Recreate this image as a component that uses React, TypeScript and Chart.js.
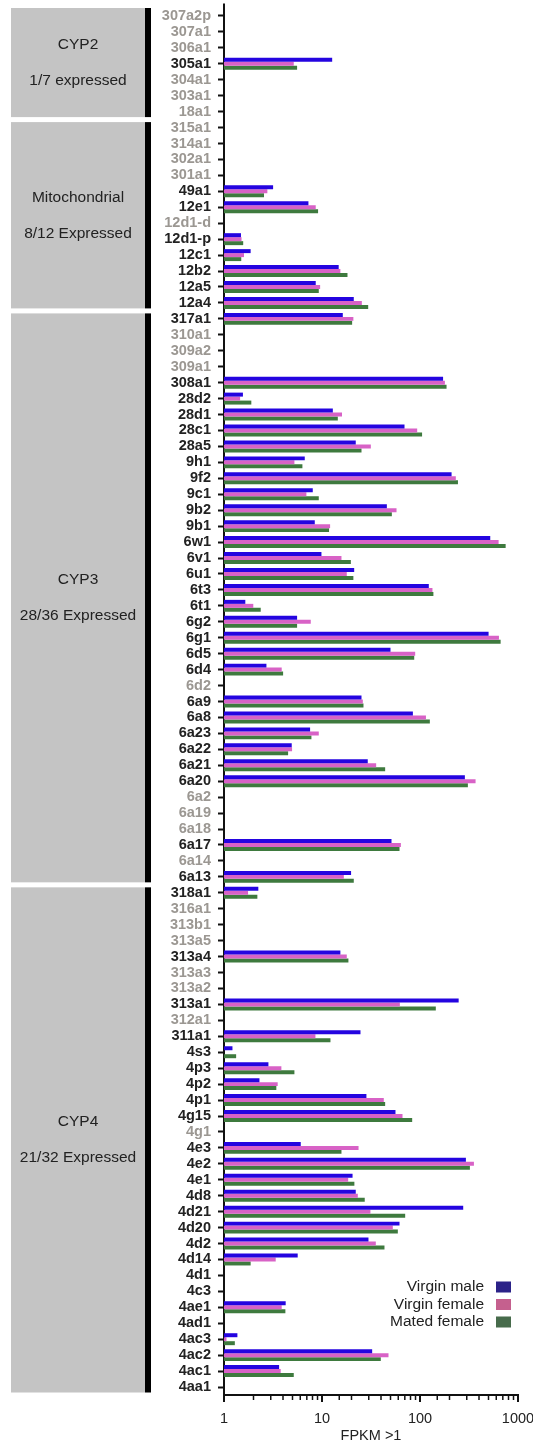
import { useEffect, useRef } from 'react';
import { Chart, registerables } from 'chart.js';

Chart.register(...registerables);

const FONT = '"Liberation Sans", Arial, Helvetica, sans-serif';

// Cytochrome P450 genes, top to bottom
const genes = [
  '307a2p', '307a1', '306a1', '305a1', '304a1', '303a1', '18a1',
  '315a1', '314a1', '302a1', '301a1', '49a1', '12e1', '12d1-d', '12d1-p', '12c1', '12b2', '12a5', '12a4',
  '317a1', '310a1', '309a2', '309a1', '308a1', '28d2', '28d1', '28c1', '28a5', '9h1', '9f2', '9c1', '9b2', '9b1',
  '6w1', '6v1', '6u1', '6t3', '6t1', '6g2', '6g1', '6d5', '6d4', '6d2', '6a9', '6a8', '6a23', '6a22', '6a21',
  '6a20', '6a2', '6a19', '6a18', '6a17', '6a14', '6a13',
  '318a1', '316a1', '313b1', '313a5', '313a4', '313a3', '313a2', '313a1', '312a1', '311a1', '4s3', '4p3', '4p2',
  '4p1', '4g15', '4g1', '4e3', '4e2', '4e1', '4d8', '4d21', '4d20', '4d2', '4d14', '4d1', '4c3', '4ae1', '4ad1',
  '4ac3', '4ac2', '4ac1', '4aa1',
];

// genes with no detectable expression (labels shown in grey)
const notExpressed = [
  '307a2p', '307a1', '306a1', '304a1', '303a1', '18a1', '315a1', '314a1', '302a1', '301a1', '12d1-d',
  '310a1', '309a2', '309a1', '6d2', '6a2', '6a19', '6a18', '6a14', '316a1', '313b1', '313a5', '313a3',
  '313a2', '312a1', '4g1',
];

// clade blocks: name, expressed count note, number of genes
const groupNames = ['CYP2', 'Mitochondrial', 'CYP3', 'CYP4'];
const groupNotes = ['1/7 expressed', '8/12 Expressed', '28/36 Expressed', '21/32 Expressed'];
const groupSizes = [7, 12, 36, 32];

const seriesLabels = ['Virgin male', 'Virgin female', 'Mated female'];
const barColors = ['#2404e0', '#d862c6', '#3e7a3e'];
const legendColors = ['#2b2288', '#c5608e', '#476b4b'];

const virginMale = [
  null, null, null, 12.7, null, null, null,
  null, null, null, null, 3.17, 7.27, null, 1.49, 1.87, 14.8, 8.63, 21.1,
  16.3, null, null, null, 172, 1.56, 12.9, 69.5, 22.1, 6.67, 210, 8.05, 45.9, 8.44,
  521, 9.87, 21.3, 123, 1.65, 5.57, 501, 50.0, 2.71, null, 25.3, 84.6, 7.56, 4.91, 29.3,
  287, null, null, null, 51.2, null, 19.8,
  2.24, null, null, null, 15.4, null, null, 248, null, 24.7, 1.22, 2.84, 2.30,
  28.4, 56.2, null, 6.07, 294, 20.5, 22.1, 276, 61.8, 29.8, 5.65, null, null, 4.26, null,
  1.37, 32.5, 3.65, null,
];

const virginFemale = [
  null, null, null, 5.15, null, null, null,
  null, null, null, null, 2.77, 8.63, null, 1.51, 1.60, 15.4, 9.57, 25.5,
  20.9, null, null, null, 179.5, 1.46, 16.0, 93.6, 31.5, 5.23, 232, 6.93, 57.6, 12.1,
  634, 15.8, 17.9, 134, 1.99, 7.68, 639, 89.3, 3.88, null, 26.1, 115, 9.27, 4.95, 35.7,
  369, null, null, null, 63.8, null, 16.7,
  1.76, null, null, null, 17.9, null, null, 62.3, null, 8.57, null, 3.85, 3.53,
  42.7, 66.3, null, 23.6, 355, 18.5, 23.2, 31.2, 52.8, 35.4, 3.37, null, null, 3.88, null,
  1.06, 47.7, 3.79, null,
];

const matedFemale = [
  null, null, null, 5.57, null, null, null,
  null, null, null, null, 2.56, 9.12, null, 1.57, 1.50, 18.2, 9.27, 29.6,
  20.3, null, null, null, 186.6, 1.90, 14.5, 105, 25.3, 6.31, 244, 9.27, 51.6, 11.8,
  748, 19.7, 20.9, 137, 2.37, 5.57, 665, 87.3, 4.01, null, 26.5, 126, 7.80, 4.51, 44.1,
  308, null, null, null, 61.8, null, 21.1,
  2.19, null, null, null, 18.6, null, null, 145, null, 12.2, 1.33, 5.23, 3.42,
  44.1, 83.2, null, 15.8, 323, 21.4, 27.3, 70.6, 59.4, 43.4, 1.87, null, null, 4.23, null,
  1.29, 39.8, 5.15, null,
];

const xTickLabels = [1, 10, 100, 1000];
const xTitle = 'FPKM >1';

// grey clade blocks with the thick black bracket to their right
const groupPlugin = {
  id: 'cypGroups',
  afterDraw(chart: any) {
    const { ctx, chartArea, scales } = chart;
    const y = scales.y;
    const step = y.getPixelForValue(1) - y.getPixelForValue(0);
    const boxLeft = chartArea.left - 213;
    const boxRight = chartArea.left - 79;
    const barRight = chartArea.left - 73;
    ctx.save();
    let start = 0;
    groupSizes.forEach((size, gi) => {
      const end = start + size - 1;
      let top = y.getPixelForValue(start) - step / 2;
      const bottom = y.getPixelForValue(end) + step / 2 - 2.5;
      if (gi > 0) top += 2.5;
      ctx.fillStyle = '#c4c4c4';
      ctx.fillRect(boxLeft, top, boxRight - boxLeft, bottom - top);
      ctx.fillStyle = '#000';
      ctx.fillRect(boxRight, top, barRight - boxRight, bottom - top);
      const cx = (boxLeft + boxRight) / 2;
      const cy = (top + bottom) / 2;
      ctx.fillStyle = '#222';
      ctx.font = `15.5px ${FONT}`;
      ctx.textAlign = 'center';
      ctx.textBaseline = 'middle';
      ctx.fillText(groupNames[gi], cx, cy - 18);
      ctx.fillText(groupNotes[gi], cx, cy + 18);
      start = end + 1;
    });
    // short extension of the value axis line above the first row
    ctx.strokeStyle = '#111';
    ctx.lineWidth = 2;
    ctx.beginPath();
    ctx.moveTo(chartArea.left, chartArea.top);
    ctx.lineTo(chartArea.left, chartArea.top - 4.5);
    ctx.stroke();
    ctx.restore();
  },
};

// log-axis tick marks: long at decades, short between
const xTickPlugin = {
  id: 'logTicks',
  afterDraw(chart: any) {
    const { ctx, chartArea, scales } = chart;
    const x = scales.x;
    ctx.save();
    ctx.strokeStyle = '#111';
    x.ticks.forEach((t: any) => {
      const lg = Math.log10(t.value);
      const major = Math.abs(lg - Math.round(lg)) < 1e-9;
      const px = x.getPixelForValue(t.value);
      ctx.lineWidth = major ? 2 : 1.5;
      ctx.beginPath();
      ctx.moveTo(px, chartArea.bottom);
      ctx.lineTo(px, chartArea.bottom + (major ? 7 : 5));
      ctx.stroke();
    });
    ctx.restore();
  },
};

// legend in the lower right of the plot
const legendPlugin = {
  id: 'cornerLegend',
  afterDraw(chart: any) {
    const { ctx, chartArea } = chart;
    ctx.save();
    ctx.font = `15.5px ${FONT}`;
    ctx.textAlign = 'right';
    ctx.textBaseline = 'middle';
    seriesLabels.forEach((label, i) => {
      const cy = chartArea.bottom - 108 + i * 17.5;
      ctx.fillStyle = '#222';
      ctx.fillText(label, chartArea.right - 34, cy);
      ctx.fillStyle = legendColors[i];
      ctx.fillRect(chartArea.right - 22, cy - 5.5, 15, 11);
    });
    ctx.restore();
  },
};

export default function App() {
  const canvasRef = useRef<HTMLCanvasElement | null>(null);

  useEffect(() => {
    if (!canvasRef.current) return;
    const series = [virginMale, virginFemale, matedFemale];
    const chart = new Chart(canvasRef.current, {
      type: 'bar',
      data: {
        labels: genes,
        datasets: series.map((values, i) => ({
          label: seriesLabels[i],
          data: values,
          backgroundColor: barColors[i],
          borderWidth: 0,
          categoryPercentage: 0.75,
          barPercentage: 1,
        })),
      },
      options: {
        indexAxis: 'y',
        animation: false,
        responsive: false,
        devicePixelRatio: 1,
        layout: { padding: { top: 8, right: 15, bottom: 0, left: 0 } },
        plugins: {
          legend: { display: false },
          tooltip: { enabled: false },
        },
        scales: {
          y: {
            type: 'category',
            afterFit: (s: any) => {
              s.width = 224;
              s.paddingTop = 0;
              s.paddingBottom = 0;
            },
            grid: {
              display: true,
              drawOnChartArea: false,
              drawTicks: true,
              tickLength: 6,
              tickWidth: 2,
              tickColor: '#111',
              offset: false,
            },
            border: { display: true, width: 2, color: '#111' },
            ticks: {
              autoSkip: false,
              padding: 7,
              font: { family: FONT, size: 14.5, weight: 'bold' },
              color: (c: any) => (notExpressed.includes(genes[c.index]) ? '#9b9792' : '#222'),
            },
          },
          x: {
            type: 'logarithmic',
            min: 1,
            max: 1000,
            afterFit: (s: any) => {
              s.height = 47;
              s.paddingLeft = 0;
              s.paddingRight = 0;
            },
            grid: {
              display: true,
              drawOnChartArea: false,
              drawTicks: true,
              tickLength: 7,
              tickColor: 'rgba(0,0,0,0)',
            },
            border: { display: true, width: 2, color: '#111' },
            ticks: {
              autoSkip: false,
              maxRotation: 0,
              padding: 8,
              font: { family: FONT, size: 14.5 },
              color: '#222',
              callback: (v: any) => (xTickLabels.includes(Number(v)) ? String(v) : ''),
            },
            title: {
              display: true,
              text: xTitle,
              color: '#222',
              font: { family: FONT, size: 14.5, lineHeight: 1 },
              padding: { top: 0, bottom: -1.5 },
            },
          },
        },
      },
      plugins: [groupPlugin, xTickPlugin, legendPlugin],
    });
    return () => chart.destroy();
  }, []);

  return (
    <div style={{ position: 'absolute', left: 0, top: 0, width: 533, height: 1442, background: '#fff' }}>
      <canvas ref={canvasRef} width={533} height={1442} style={{ display: 'block' }} />
    </div>
  );
}
